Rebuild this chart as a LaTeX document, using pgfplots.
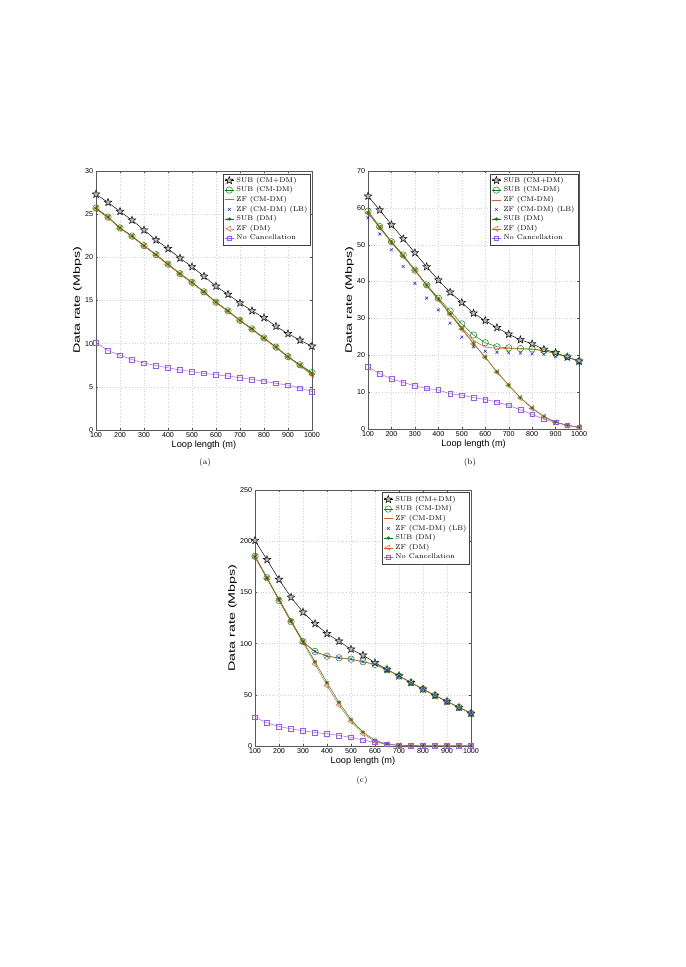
\documentclass[border=0pt]{standalone}
\usepackage{pgfplots}
\usepackage{pgfplotstable}
\pgfplotsset{compat=1.18}
\usepackage{fontspec}
\newfontfamily\hv{Liberation Sans}
\usetikzlibrary{plotmarks}

\pgfdeclareplotmark{pentagram}{%
  \pgfpathmoveto{\pgfpointpolar{90}{\pgfplotmarksize}}%
  \pgfpathlineto{\pgfpointpolar{126}{0.42\pgfplotmarksize}}%
  \pgfpathlineto{\pgfpointpolar{162}{\pgfplotmarksize}}%
  \pgfpathlineto{\pgfpointpolar{198}{0.42\pgfplotmarksize}}%
  \pgfpathlineto{\pgfpointpolar{234}{\pgfplotmarksize}}%
  \pgfpathlineto{\pgfpointpolar{270}{0.42\pgfplotmarksize}}%
  \pgfpathlineto{\pgfpointpolar{306}{\pgfplotmarksize}}%
  \pgfpathlineto{\pgfpointpolar{342}{0.42\pgfplotmarksize}}%
  \pgfpathlineto{\pgfpointpolar{18}{\pgfplotmarksize}}%
  \pgfpathlineto{\pgfpointpolar{54}{0.42\pgfplotmarksize}}%
  \pgfpathclose
  \pgfusepathqfillstroke
}

\definecolor{mgreen}{rgb}{0,0.5,0}
\definecolor{morange}{rgb}{0.87,0.36,0.15}
\definecolor{mblue}{rgb}{0.1,0.1,0.95}
\definecolor{mpurple}{rgb}{0.6,0.35,0.95}

\pgfplotstableread{
x s1 s2 s3 s4 s5 s6 s7
100 27.3 25.7 25.6 25.6 25.7 25.6 10.1
150 26.35 24.65 24.6 24.6 24.65 24.6 9.2
200 25.3 23.4 23.35 23.35 23.4 23.35 8.65
250 24.3 22.45 22.4 22.4 22.45 22.4 8.15
300 23.15 21.35 21.3 21.3 21.35 21.3 7.75
350 22.0 20.3 20.25 20.25 20.3 20.25 7.45
400 21.0 19.2 19.15 19.15 19.2 19.15 7.2
450 19.9 18.1 18.05 18.05 18.1 18.05 6.95
500 18.9 17.1 17.05 17.05 17.1 17.05 6.75
550 17.8 16.0 15.95 15.95 16.0 15.95 6.55
600 16.65 14.8 14.75 14.75 14.8 14.75 6.4
650 15.7 13.8 13.75 13.75 13.8 13.75 6.25
700 14.7 12.7 12.65 12.65 12.7 12.65 6.05
750 13.8 11.7 11.65 11.65 11.7 11.65 5.85
800 13.0 10.65 10.6 10.6 10.65 10.6 5.65
850 12.0 9.6 9.55 9.55 9.6 9.55 5.4
900 11.15 8.5 8.45 8.45 8.5 8.45 5.2
950 10.4 7.55 7.45 7.45 7.5 7.45 4.85
1000 9.7 6.65 6.4 6.4 6.55 6.4 4.45
}\tblA

\pgfplotstableread{
x s1 s2 s3 s4 s5 s6 s7
100 63.15 59.1 58.6 57.3 58.7 58.6 16.85
150 59.4 54.9 54.6 52.9 54.7 54.6 15.0
200 55.4 50.8 50.6 48.6 50.7 50.6 13.6
250 51.6 47.2 46.9 44.1 47.0 46.9 12.6
300 47.8 43.1 43.0 39.5 43.1 43.0 11.7
350 44.0 39.1 38.9 35.5 39.0 38.9 11.0
400 40.4 35.5 35.1 32.3 35.2 35.1 10.6
450 37.1 32.0 31.3 28.7 31.2 31.1 9.55
500 34.3 28.5 27.6 24.9 27.2 27.1 9.2
550 31.4 25.5 24.0 22.3 23.2 23.1 8.5
600 29.4 23.4 22.2 21.1 19.5 19.4 8.0
650 27.5 22.3 21.9 20.8 15.5 15.4 7.3
700 25.7 22.0 21.8 20.7 11.9 11.8 6.4
750 24.2 21.8 21.7 20.6 8.5 8.4 5.2
800 23.1 21.7 21.6 20.4 5.7 5.6 4.0
850 21.6 21.3 21.2 20.2 3.4 3.3 2.6
900 20.7 20.5 20.4 19.6 1.9 1.8 1.8
950 19.5 19.6 19.5 19.1 1.0 0.9 1.0
1000 18.4 18.4 18.3 17.9 0.5 0.45 0.5
}\tblB

\pgfplotstableread{
x s1 s2 s3 s4 s5 s6 s7
100 200.6 185.2 184.5 184.5 185.2 184.5 28.1
150 181.9 164.2 163.5 163.5 164.2 163.5 22.6
200 162.6 141.9 142.5 142.5 143.5 142.5 19.0
250 145.2 121.3 121.5 121.5 122.5 121.5 16.8
300 130.6 101.9 101.0 101.0 102.5 101.0 14.8
350 119.4 92.3 92.0 92.3 82.3 80.0 13.2
400 109.7 87.7 87.5 87.7 61.9 59.0 11.9
450 102.3 86.1 86.0 86.1 42.6 40.0 10.3
500 94.5 84.8 84.7 84.8 25.8 24.0 8.4
550 88.7 82.3 82.2 82.3 13.5 12.0 5.8
600 81.3 79.7 79.6 79.7 5.5 4.5 3.5
650 74.8 74.5 74.4 74.5 1.9 1.5 1.9
700 68.4 68.4 68.3 68.4 0.6 0.5 0.6
750 61.9 61.9 61.8 61.9 0.3 0.2 0.3
800 55.5 55.5 55.4 55.5 0.2 0.15 0.2
850 49.4 49.4 49.3 49.4 0.2 0.15 0.2
900 43.5 43.5 43.4 43.5 0.2 0.15 0.2
950 37.7 37.7 37.6 37.7 0.2 0.15 0.2
1000 31.9 31.9 31.8 31.9 0.2 0.15 0.2
}\tblC

\pgfplotsset{
  chartbase/.style={
    scale only axis,
    xmin=100, xmax=1000,
    xtick={100,200,...,1000},
    grid=major,
    major grid style={dotted, gray!35, line width=0.3pt},
    tick align=inside,
    tick style={black!70, line width=0.3pt},
    major tick length=2pt,
    axis line style={black!65, line width=0.4pt},
    ticklabel style={font=\hv\fontsize{6.2}{7}\selectfont},
    /pgf/number format/assume math mode=true,
    /pgf/number format/1000 sep={},
    xticklabel style={yshift=1pt},
    yticklabel style={xshift=1pt},
    label style={font=\hv\fontsize{8}{9}\selectfont},
    xlabel={Loop length (m)},
    ylabel={\scalebox{1.55}[1]{Data rate (Mbps)}},
    xlabel style={yshift=4pt},
    ylabel style={yshift=-4pt},
    legend style={font=\fontsize{6}{6.4}\selectfont, at={(0.995,0.99)}, anchor=north east,
      draw=black!75, line width=0.4pt, inner sep=0.8pt, row sep=-1.6pt,
      cells={anchor=west}},
    legend image code/.code={\draw[mark repeat=2,mark phase=2,#1] plot coordinates {(0cm,0cm) (0.14cm,0cm) (0.28cm,0cm)};},
  },
  sA/.style={black, line width=0.4pt, mark=pentagram, mark size=3.5pt, mark options={fill=gray!55, draw=black, line width=0.4pt}},
  sB/.style={mgreen, line width=0.4pt, mark=o, mark size=2.8pt, mark options={line width=0.4pt}},
  sC/.style={morange, line width=0.5pt, no marks},
  sD/.style={mblue, only marks, mark=x, mark size=1.8pt, mark options={line width=0.4pt}},
  sE/.style={mgreen, line width=0.4pt, mark=asterisk, mark size=1.8pt, mark options={line width=0.5pt}},
  sF/.style={morange, line width=0.4pt, mark=triangle, mark size=2.7pt, mark options={rotate=90, line width=0.4pt}},
  sG/.style={mpurple, line width=0.4pt, mark=square, mark size=2pt, mark options={line width=0.4pt}},
}

\begin{document}
\begin{tikzpicture}
\path (0pt,0pt) rectangle (595pt,839.9pt);

% (a)
\begin{axis}[chartbase, at={(83.39pt,466.44pt)}, anchor=south west,
  width=187.6pt, height=225.0pt, ymin=0, ymax=30, ytick={0,5,...,30}]
\addplot[sA] table[x=x,y=s1]{\tblA};
\addplot[sB] table[x=x,y=s2]{\tblA};
\addplot[sC] table[x=x,y=s3]{\tblA};
\addlegendimage{sD}
\addplot[sE] table[x=x,y=s5]{\tblA};
\addplot[sF] table[x=x,y=s6]{\tblA};
\addplot[sG] table[x=x,y=s7]{\tblA};
\legend{SUB (CM+DM),SUB (CM-DM),ZF (CM-DM),ZF (CM-DM) (LB),SUB (DM),ZF (DM),No Cancellation}
\end{axis}

% (b)
\begin{axis}[chartbase, at={(319.64pt,467.31pt)}, anchor=south west,
  width=183.3pt, height=224.1pt, ymin=0, ymax=70, ytick={0,10,...,70}]
\addplot[sA] table[x=x,y=s1]{\tblB};
\addplot[sB] table[x=x,y=s2]{\tblB};
\addplot[sC] table[x=x,y=s3]{\tblB};
\addplot[sD] table[x=x,y=s4]{\tblB};
\addplot[sE] table[x=x,y=s5]{\tblB};
\addplot[sF] table[x=x,y=s6]{\tblB};
\addplot[sG] table[x=x,y=s7]{\tblB};
\legend{SUB (CM+DM),SUB (CM-DM),ZF (CM-DM),ZF (CM-DM) (LB),SUB (DM),ZF (DM),No Cancellation}
\end{axis}

% (c)
\begin{axis}[chartbase, at={(221.49pt,191.96pt)}, anchor=south west,
  width=187.6pt, height=222.4pt, ymin=0, ymax=250, ytick={0,50,...,250}]
\addplot[sA] table[x=x,y=s1]{\tblC};
\addplot[sB] table[x=x,y=s2]{\tblC};
\addplot[sC] table[x=x,y=s3]{\tblC};
\addplot[sD] table[x=x,y=s4]{\tblC};
\addplot[sE] table[x=x,y=s5]{\tblC};
\addplot[sF] table[x=x,y=s6]{\tblC};
\addplot[sG] table[x=x,y=s7]{\tblC};
\legend{SUB (CM+DM),SUB (CM-DM),ZF (CM-DM),ZF (CM-DM) (LB),SUB (DM),ZF (DM),No Cancellation}
\end{axis}

\node[font=\fontsize{7}{8}\selectfont] at (178.1pt,437.8pt) {(a)};
\node[font=\fontsize{7}{8}\selectfont] at (408.2pt,437.8pt) {(b)};
\node[font=\fontsize{7}{8}\selectfont] at (314.4pt,161.6pt) {(c)};
\end{tikzpicture}
\end{document}
